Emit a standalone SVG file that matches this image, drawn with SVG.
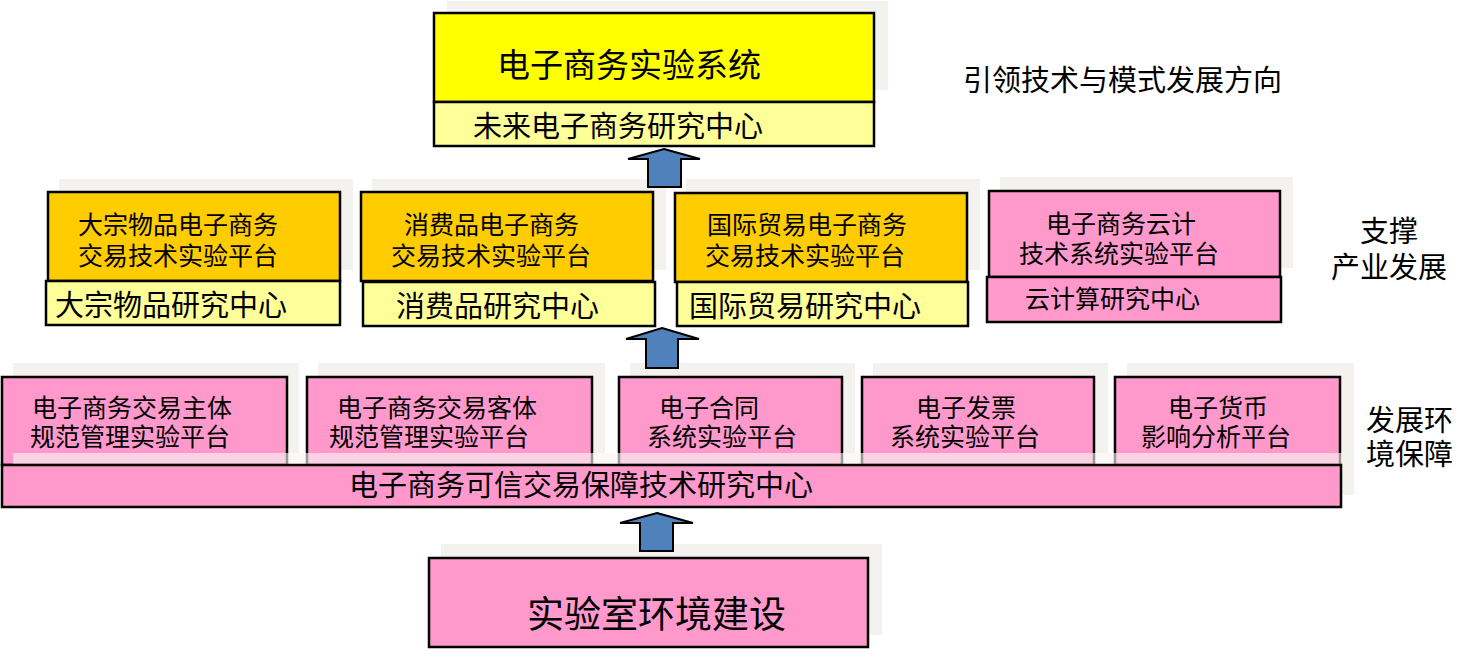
<svg xmlns="http://www.w3.org/2000/svg" width="1473" height="657" viewBox="0 0 1473 657">
<style>
text{font-family:"Noto Sans CJK SC","Noto Sans CJK TC",sans-serif;fill:#000;}
.sh{fill:#f3f2ee;}
.shT{fill:#f7f6f2;opacity:0.62;}
.box{stroke:#000;stroke-width:2.5;}
.yel{fill:#ffff00;}
.lyel{fill:#ffff99;}
.org{fill:#ffcc00;}
.pink{fill:#ff99cc;}
.arrow{fill:#4f81bd;stroke:#000;stroke-width:2;stroke-linejoin:miter;}
.f25{font-size:25px;}
.f29{font-size:29px;}
</style>
<rect width="1473" height="657" fill="#fff"/>
<g id="shadows">
<rect class="sh" x="447" y="1" width="441" height="89"/>
<rect class="sh" x="59" y="179" width="294" height="91"/>
<rect class="sh" x="372" y="179" width="294" height="91"/>
<rect class="sh" x="686" y="179" width="294" height="91"/>
<rect class="sh" x="1000" y="177" width="293" height="91"/>
<rect class="sh" x="13" y="363" width="286" height="90"/>
<rect class="sh" x="318" y="363" width="287" height="90"/>
<rect class="sh" x="630" y="363" width="225" height="90"/>
<rect class="sh" x="873" y="363" width="235" height="90"/>
<rect class="sh" x="1127" y="363" width="227" height="90"/>
<rect class="sh" x="441" y="544" width="441" height="91"/>
</g>
<g id="top">
<rect class="box yel" x="434" y="13" width="440" height="89"/>
<text x="497" y="77" style="font-size:33px">电子商务实验系统</text>
<rect class="box lyel" x="434" y="102" width="440" height="44"/>
<text class="f29" x="473" y="137">未来电子商务研究中心</text>
</g>
<text id="label-top" class="f29" x="963" y="91">引领技术与模式发展方向</text>
<g id="bulk">
<rect class="box org" x="48" y="192" width="292" height="89"/>
<text class="f25"><tspan x="78" y="234">大宗物品电子商务</tspan><tspan x="78" y="265">交易技术实验平台</tspan></text>
<rect class="box lyel" x="46" y="281" width="294" height="44"/>
<text class="f29" x="55" y="316">大宗物品研究中心</text>
</g>
<g id="consumer">
<rect class="box org" x="361" y="192" width="292" height="89"/>
<text class="f25"><tspan x="404" y="234">消费品电子商务</tspan><tspan x="391" y="265">交易技术实验平台</tspan></text>
<rect class="box lyel" x="363" y="282" width="292" height="44"/>
<text class="f29" x="396" y="317">消费品研究中心</text>
</g>
<g id="trade">
<rect class="box org" x="675" y="193" width="292" height="89"/>
<text class="f25"><tspan x="707" y="234">国际贸易电子商务</tspan><tspan x="705" y="265">交易技术实验平台</tspan></text>
<rect class="box lyel" x="677" y="282" width="291" height="44"/>
<text class="f29" x="689" y="317">国际贸易研究中心</text>
</g>
<g id="cloud">
<rect class="box pink" x="989" y="191" width="291" height="86"/>
<text class="f25"><tspan x="1046" y="233">电子商务云计</tspan><tspan x="1019" y="263">技术系统实验平台</tspan></text>
<rect class="box pink" x="987" y="277" width="294" height="45"/>
<text class="f25" x="1025" y="308">云计算研究中心</text>
</g>
<text id="label-mid" class="f29"><tspan x="1360" y="242">支撑</tspan><tspan x="1331" y="278">产业发展</tspan></text>
<g id="subject">
<rect class="box pink" x="2" y="377" width="285" height="88"/>
<text class="f25"><tspan x="32" y="417">电子商务交易主体</tspan><tspan x="30" y="446">规范管理实验平台</tspan></text>
</g>
<g id="object">
<rect class="box pink" x="307" y="377" width="285" height="88"/>
<text class="f25"><tspan x="337" y="417">电子商务交易客体</tspan><tspan x="329" y="446">规范管理实验平台</tspan></text>
</g>
<g id="contract">
<rect class="box pink" x="619" y="377" width="223" height="88"/>
<text class="f25"><tspan x="659" y="417">电子合同</tspan><tspan x="647" y="446">系统实验平台</tspan></text>
</g>
<g id="invoice">
<rect class="box pink" x="862" y="377" width="232" height="88"/>
<text class="f25"><tspan x="916" y="417">电子发票</tspan><tspan x="890" y="446">系统实验平台</tspan></text>
</g>
<g id="currency">
<rect class="box pink" x="1115" y="377" width="225" height="88"/>
<text class="f25"><tspan x="1168" y="417">电子货币</tspan><tspan x="1141" y="446">影响分析平台</tspan></text>
</g>
<rect class="shT" x="13" y="453" width="1341" height="12"/>
<rect class="sh" x="1342" y="453" width="12" height="42"/>
<g id="trust">
<rect class="box pink" x="2" y="465" width="1339" height="42"/>
<text class="f29" x="349" y="496">电子商务可信交易保障技术研究中心</text>
</g>
<text id="label-bottom" class="f29"><tspan x="1366" y="431">发展环</tspan><tspan x="1366" y="465">境保障</tspan></text>
<g id="lab">
<rect class="box pink" x="429" y="558" width="439" height="89"/>
<text x="527" y="628" style="font-size:37px">实验室环境建设</text>
</g>
<g id="connectors">
<polygon class="arrow" points="664,149 700,159 681,159 681,187 648,187 648,159 628,159"/>
<polygon class="arrow" points="662,328 699,339 678,339 678,368 646,368 646,339 626,339"/>
<polygon class="arrow" points="657,513 693,523 673,523 673,551 640,551 640,523 620,523"/>
</g>
</svg>
